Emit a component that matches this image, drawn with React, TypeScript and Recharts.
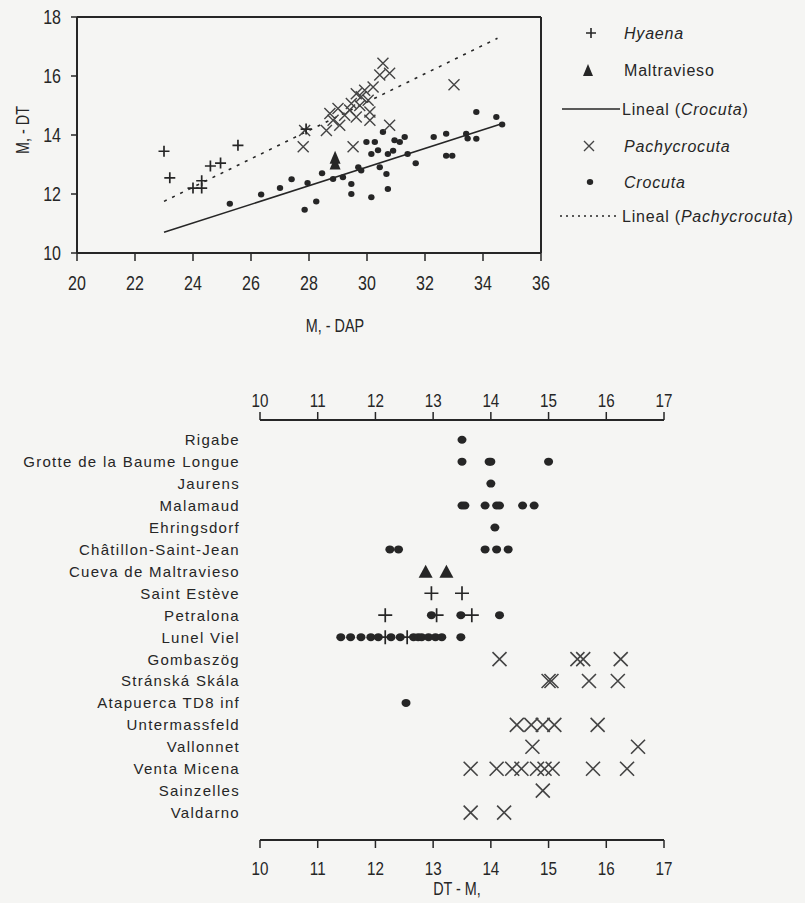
import React from "react";
import { ScatterChart, Scatter, XAxis, YAxis, ReferenceLine, Legend, Label } from "recharts";

// ---- top chart: M1 DAP vs DT ----
const TOP_X_TICKS = [20, 22, 24, 26, 28, 30, 32, 34, 36];
const TOP_Y_TICKS = [10, 12, 14, 16, 18];

const HYAENA: [number, number][] = [
  [23.0, 13.45], [23.2, 12.55], [24.0, 12.2], [24.3, 12.2], [24.3, 12.45],
  [24.6, 12.95], [24.95, 13.05], [25.55, 13.65], [27.9, 14.2],
];

const MALTRAVIESO: [number, number][] = [
  [28.9, 13.25], [28.9, 13.05],
];

const PACHYCROCUTA: [number, number][] = [
  [27.8, 13.6], [27.85, 14.15], [28.6, 14.15], [28.72, 14.73], [28.83, 14.5],
  [29.0, 14.9], [29.06, 14.33], [29.23, 14.67], [29.4, 14.85], [29.46, 15.07],
  [29.52, 13.6], [29.63, 15.4], [29.63, 14.61], [29.75, 15.0], [29.8, 15.3],
  [29.92, 15.52], [30.04, 15.18], [30.1, 14.78], [30.1, 14.5], [30.21, 15.63],
  [30.44, 16.03], [30.55, 16.43], [30.78, 16.09], [30.78, 14.33], [33.0, 15.7],
];

const CROCUTA: [number, number][] = [
  [25.27, 11.67], [26.35, 11.98], [27.0, 12.2], [27.4, 12.5], [27.85, 11.47],
  [27.95, 12.37], [28.25, 11.75], [28.45, 12.7], [28.83, 12.51], [29.17, 12.57],
  [29.46, 12.34], [29.46, 12.0], [29.7, 12.91], [29.8, 12.8], [29.98, 13.76],
  [30.15, 11.89], [30.15, 13.36], [30.27, 13.76], [30.38, 13.48], [30.44, 12.91],
  [30.55, 14.1], [30.67, 12.68], [30.72, 12.17], [30.72, 13.36], [30.9, 13.47],
  [30.95, 13.82], [31.13, 13.76], [31.3, 13.93], [31.4, 13.36], [31.68, 13.04],
  [32.3, 13.93], [32.73, 14.04], [32.73, 13.3], [32.94, 13.3], [33.42, 14.04],
  [33.47, 13.88], [33.77, 13.87], [33.77, 14.78], [34.46, 14.61], [34.66, 14.36],
];

// trend lines, end points
const CROCUTA_FIT: [number, number][] = [[23.0, 10.7], [34.7, 14.4]];
const PACHY_FIT: [number, number][] = [[23.0, 11.75], [34.5, 17.28]];

// ---- bottom chart: DT M1 per site ----
const SITES = [
  "Rigabe", "Grotte de la Baume Longue", "Jaurens", "Malamaud", "Ehringsdorf",
  "Châtillon-Saint-Jean", "Cueva de Maltravieso", "Saint Estève", "Petralona",
  "Lunel Viel", "Gombaszög", "Stránská Skála", "Atapuerca TD8 inf",
  "Untermassfeld", "Vallonnet", "Venta Micena", "Sainzelles", "Valdarno",
];
const DT_TICKS = [10, 11, 12, 13, 14, 15, 16, 17];

const SITE_CROCUTA: [string, number][] = [
  ["Rigabe", 13.5],
  ["Grotte de la Baume Longue", 13.5], ["Grotte de la Baume Longue", 13.97],
  ["Grotte de la Baume Longue", 14.0], ["Grotte de la Baume Longue", 15.0],
  ["Jaurens", 14.0],
  ["Malamaud", 13.5], ["Malamaud", 13.55], ["Malamaud", 13.9], ["Malamaud", 14.1],
  ["Malamaud", 14.15], ["Malamaud", 14.55], ["Malamaud", 14.75],
  ["Ehringsdorf", 14.07],
  ["Châtillon-Saint-Jean", 12.25], ["Châtillon-Saint-Jean", 12.4],
  ["Châtillon-Saint-Jean", 13.9], ["Châtillon-Saint-Jean", 14.1], ["Châtillon-Saint-Jean", 14.3],
  ["Petralona", 12.97], ["Petralona", 13.48], ["Petralona", 14.15],
  ["Lunel Viel", 11.4], ["Lunel Viel", 11.57], ["Lunel Viel", 11.75], ["Lunel Viel", 11.92],
  ["Lunel Viel", 12.05], ["Lunel Viel", 12.27], ["Lunel Viel", 12.43], ["Lunel Viel", 12.66],
  ["Lunel Viel", 12.74], ["Lunel Viel", 12.8], ["Lunel Viel", 12.92], ["Lunel Viel", 13.04],
  ["Lunel Viel", 13.15], ["Lunel Viel", 13.48],
  ["Atapuerca TD8 inf", 12.53],
];

const SITE_HYAENA: [string, number][] = [
  ["Saint Estève", 12.97], ["Saint Estève", 13.5],
  ["Petralona", 12.17], ["Petralona", 13.06], ["Petralona", 13.67],
  ["Lunel Viel", 12.17], ["Lunel Viel", 12.55],
];

const SITE_MALTRAVIESO: [string, number][] = [
  ["Cueva de Maltravieso", 12.87], ["Cueva de Maltravieso", 13.23],
];

const SITE_PACHY: [string, number][] = [
  ["Gombaszög", 14.15], ["Gombaszög", 15.5], ["Gombaszög", 15.6], ["Gombaszög", 16.25],
  ["Stránská Skála", 15.0], ["Stránská Skála", 15.05], ["Stránská Skála", 15.7], ["Stránská Skála", 16.2],
  ["Untermassfeld", 14.45], ["Untermassfeld", 14.7], ["Untermassfeld", 14.9],
  ["Untermassfeld", 15.1], ["Untermassfeld", 15.85],
  ["Vallonnet", 14.72], ["Vallonnet", 16.55],
  ["Venta Micena", 13.65], ["Venta Micena", 14.1], ["Venta Micena", 14.37], ["Venta Micena", 14.53],
  ["Venta Micena", 14.8], ["Venta Micena", 14.93], ["Venta Micena", 15.07], ["Venta Micena", 15.77],
  ["Venta Micena", 16.36],
  ["Sainzelles", 14.9],
  ["Valdarno", 13.65], ["Valdarno", 14.23],
];

const INK = "#262626";
const GREY_X = "#444";
const BG = "#f5f5f3";
const SANS = "'Liberation Sans', Arial, sans-serif";

const pts = (arr: [number, number][]) => arr.map(([x, y]) => ({ x, y }));
const sitePts = (arr: [string, number][]) => arr.map(([s, v]) => ({ x: v, y: SITES.indexOf(s) }));

const plus = (h: number, w: number) => (p: any) => (
  <path
    d={`M${p.cx - h},${p.cy}H${p.cx + h}M${p.cx},${p.cy - h}V${p.cy + h}`}
    stroke={INK}
    strokeWidth={w}
    fill="none"
  />
);

const cross = (h: number, w: number) => (p: any) => (
  <path
    d={`M${p.cx - h},${p.cy - h}L${p.cx + h},${p.cy + h}M${p.cx - h},${p.cy + h}L${p.cx + h},${p.cy - h}`}
    stroke={GREY_X}
    strokeWidth={w}
    fill="none"
  />
);

const tri = (hw: number, hh: number) => (p: any) => (
  <path d={`M${p.cx},${p.cy - hh}L${p.cx + hw},${p.cy + hh}L${p.cx - hw},${p.cy + hh}Z`} fill={INK} />
);

const dot = (rx: number, ry: number) => (p: any) => (
  <ellipse cx={p.cx} cy={p.cy} rx={rx} ry={ry} fill={INK} />
);

const noMark = () => <g />;

// tall, narrow digits like the scanned figure
const narrowText = (x: number, y: number, s: string, size: number, anchor: string, baseline: string, rotate = 0) => (
  <g transform={`translate(${x},${y}) rotate(${rotate}) scale(0.8,1)`}>
    <text x={0} y={0} textAnchor={anchor} dominantBaseline={baseline} fontFamily={SANS} fontSize={size} fill={INK}>
      {s}
    </text>
  </g>
);

const numTick = (size: number, baseline: string) => (p: any) =>
  narrowText(p.x, p.y, String(p.payload.value), size, p.textAnchor, baseline);

function TopLegend() {
  const t = { fontFamily: SANS, fontSize: 16, fill: INK, letterSpacing: 0.8 };
  return (
    <svg width={250} height={215}>
      {plus(5, 1.6)({ cx: 36, cy: 19 })}
      <text x={69} y={19} dominantBaseline="central" {...t} fontStyle="italic">Hyaena</text>
      {tri(5, 6)({ cx: 33, cy: 56 })}
      <text x={69} y={56} dominantBaseline="central" {...t}>Maltravieso</text>
      <line x1={7} x2={65} y1={95} y2={95} stroke={INK} strokeWidth={1.5} />
      <text x={67} y={95} dominantBaseline="central" {...t}>
        Lineal (<tspan fontStyle="italic">Crocuta</tspan>)
      </text>
      {cross(5, 1.4)({ cx: 34, cy: 132 })}
      <text x={69} y={132} dominantBaseline="central" {...t} fontStyle="italic">Pachycrocuta</text>
      {dot(3.2, 3)({ cx: 35, cy: 168 })}
      <text x={69} y={168} dominantBaseline="central" {...t} fontStyle="italic">Crocuta</text>
      <line x1={5} x2={65} y1={202} y2={202} stroke={INK} strokeWidth={1.5} strokeDasharray="2 4" />
      <text x={67} y={202} dominantBaseline="central" {...t}>
        Lineal (<tspan fontStyle="italic">Pachycrocuta</tspan>)
      </text>
    </svg>
  );
}

function SiteTick(props: any) {
  const { x, y, payload } = props;
  return (
    <text
      x={x}
      y={y}
      textAnchor="end"
      dominantBaseline="central"
      fontFamily={SANS}
      fontSize={15}
      letterSpacing={1.3}
      fill={INK}
    >
      {SITES[payload.value]}
    </text>
  );
}

export default function App() {
  const axisStyle = { stroke: INK, strokeWidth: 2 };
  const tickLine = { stroke: INK, strokeWidth: 1.5 };
  return (
    <div style={{ position: "absolute", left: 0, top: 0, width: 805, height: 903, background: BG, overflow: "hidden" }}>
      <div style={{ position: "absolute", left: 0, top: 0 }}>
        <ScatterChart width={805} height={340} margin={{ top: 17, right: 264, bottom: 0, left: 0 }}>
          <XAxis
            type="number"
            dataKey="x"
            domain={[20, 36]}
            ticks={TOP_X_TICKS}
            allowDataOverflow
            height={87}
            tickSize={8}
            tickMargin={15}
            tick={numTick(20, "hanging")}
            axisLine={axisStyle}
            tickLine={tickLine}
          >
            <Label content={() => narrowText(335, 325, "M, - DAP", 18, "middle", "central")} />
          </XAxis>
          <YAxis
            type="number"
            dataKey="y"
            domain={[10, 18]}
            ticks={TOP_Y_TICKS}
            allowDataOverflow
            width={77}
            tickSize={6}
            tickMargin={10}
            tick={numTick(20, "central")}
            axisLine={axisStyle}
            tickLine={tickLine}
          >
            <Label content={() => narrowText(22, 130, "M, - DT", 18, "middle", "central", -90)} />
          </YAxis>
          <ReferenceLine y={18} stroke={INK} strokeWidth={2} />
          <ReferenceLine x={36} stroke={INK} strokeWidth={2} />
          <Scatter data={pts(CROCUTA_FIT)} line={{ stroke: INK, strokeWidth: 1.6 }} shape={noMark} isAnimationActive={false} />
          <Scatter data={pts(PACHY_FIT)} line={{ stroke: INK, strokeWidth: 1.6, strokeDasharray: "3 6" }} shape={noMark} isAnimationActive={false} />
          <Scatter name="Crocuta" data={pts(CROCUTA)} shape={dot(3.2, 3)} isAnimationActive={false} />
          <Scatter name="Pachycrocuta" data={pts(PACHYCROCUTA)} shape={cross(5.5, 1.4)} isAnimationActive={false} />
          <Scatter name="Hyaena" data={pts(HYAENA)} shape={plus(5.5, 1.7)} isAnimationActive={false} />
          <Scatter name="Maltravieso" data={pts(MALTRAVIESO)} shape={tri(5.5, 6.5)} isAnimationActive={false} />
          <Legend
            content={TopLegend}
            layout="vertical"
            align="center"
            verticalAlign="middle"
            wrapperStyle={{ left: 555, top: 14, width: 250 }}
          />
        </ScatterChart>
      </div>

      <div style={{ position: "absolute", left: 0, top: 380 }}>
        <ScatterChart width={805} height={523} margin={{ top: 0, right: 141, bottom: 0, left: 0 }}>
          <XAxis
            xAxisId="top"
            orientation="top"
            type="number"
            dataKey="x"
            domain={[10, 17]}
            ticks={DT_TICKS}
            allowDataOverflow
            height={40}
            tickSize={8}
            tickMargin={5}
            tick={numTick(19, "auto")}
            axisLine={axisStyle}
            tickLine={tickLine}
          />
          <XAxis
            xAxisId="bottom"
            orientation="bottom"
            type="number"
            dataKey="x"
            domain={[10, 17]}
            ticks={DT_TICKS}
            allowDataOverflow
            height={63}
            tickSize={8}
            tickMargin={13}
            tick={numTick(19, "hanging")}
            axisLine={axisStyle}
            tickLine={tickLine}
          >
            <Label content={() => narrowText(457, 508, "DT - M,", 18, "middle", "central")} />
          </XAxis>
          <YAxis
            type="number"
            dataKey="y"
            domain={[-0.9, 18.25]}
            reversed
            ticks={SITES.map((_, i) => i)}
            interval={0}
            allowDataOverflow
            width={260}
            axisLine={false}
            tickLine={false}
            tickSize={0}
            tickMargin={20}
            tick={<SiteTick />}
          />
          <Scatter xAxisId="bottom" data={sitePts(SITE_CROCUTA)} shape={dot(4.5, 4)} isAnimationActive={false} />
          <Scatter xAxisId="bottom" data={sitePts(SITE_PACHY)} shape={cross(7, 1.6)} isAnimationActive={false} />
          <Scatter xAxisId="bottom" data={sitePts(SITE_HYAENA)} shape={plus(7, 1.7)} isAnimationActive={false} />
          <Scatter xAxisId="bottom" data={sitePts(SITE_MALTRAVIESO)} shape={tri(7, 6.5)} isAnimationActive={false} />
        </ScatterChart>
      </div>
    </div>
  );
}
